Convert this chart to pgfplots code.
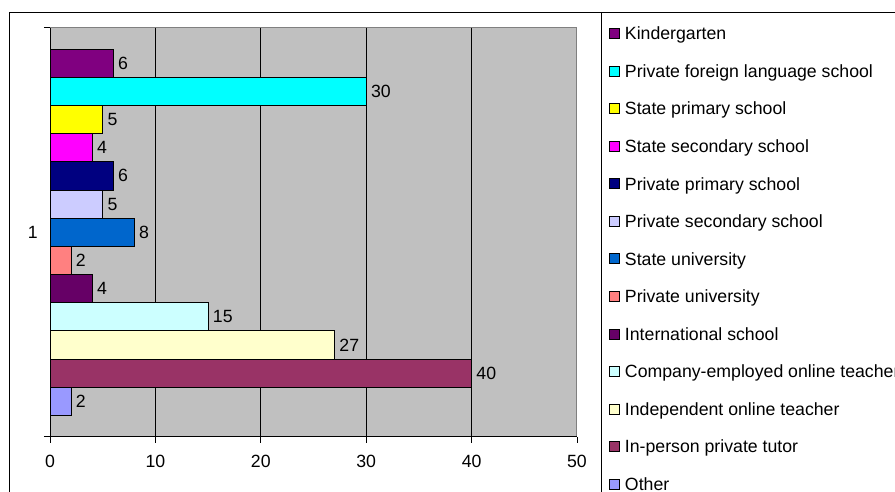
\documentclass[border=0pt]{standalone}
\usepackage{fontspec}
\setmainfont{Liberation Sans}
\usepackage{pgfplots}
\pgfplotsset{compat=1.18}
\definecolor{plotgray}{HTML}{C0C0C0}
\definecolor{bordergray}{HTML}{808080}
\definecolor{cA}{HTML}{800080}
\definecolor{cB}{HTML}{00FFFF}
\definecolor{cC}{HTML}{FFFF00}
\definecolor{cD}{HTML}{FF00FF}
\definecolor{cE}{HTML}{000080}
\definecolor{cF}{HTML}{CCCCFF}
\definecolor{cG}{HTML}{0066CC}
\definecolor{cH}{HTML}{FF8080}
\definecolor{cI}{HTML}{660066}
\definecolor{cJ}{HTML}{CCFFFF}
\definecolor{cK}{HTML}{FFFFCC}
\definecolor{cL}{HTML}{993366}
\definecolor{cM}{HTML}{9999FF}
\newcommand{\fs}{\fontsize{17.7pt}{21pt}\selectfont}
\begin{document}
\begin{tikzpicture}
\useasboundingbox (0,0) rectangle (895pt,492pt);
\clip (0,0) rectangle (895pt,492pt);
\draw[black, line width=1pt] (9.3pt,-10pt) rectangle (910pt,479.3pt);
\draw[black, line width=1pt] (601pt,-10pt) -- (601pt,479.3pt);
\begin{axis}[
  at={(50pt,55.3pt)}, anchor=south west,
  scale only axis, width=527pt, height=409pt,
  xbar, bar width=1, bar shift=0pt,
  xmin=0, xmax=50, ymin=-0.26, ymax=14.26, y dir=reverse,
  axis background/.style={fill=plotgray, draw=bordergray, line width=1pt},
  axis x line*=bottom, axis y line*=left,
  axis line style={black, line width=1pt},
  tick align=outside, major tick length=6pt,
  tick style={black, line width=0.8pt},
  xtick={0,10,20,30,40,50},
  ytick={-0.26,14.26}, yticklabels={,},
  extra y ticks={7}, extra y tick labels={1},
  extra y tick style={major tick length=0pt},
  extra x ticks={10,20,30,40}, extra x tick labels={},
  extra x tick style={grid=major},
  major grid style={black, line width=0.8pt},
  /pgf/number format/assume math mode=true,
  xticklabel style={font=\fs, inner sep=0pt, yshift=-12.5pt},
  yticklabel style={font=\fs, inner sep=0pt, xshift=-12pt},
  nodes near coords,
  nodes near coords style={font=\fs, inner sep=0pt, anchor=west, xshift=4.5pt, text=black},
  every axis plot/.append style={draw=black, line width=0.8pt, bar shift=0pt},
  legend cell align=left,
  legend image code/.code={\draw[#1, line width=0.8pt] (0pt,-5pt) rectangle (10pt,5pt);},
  legend style={at={(axis description cs:1.0607,1.0100)}, anchor=north west,
    draw=none, fill=none, inner sep=0pt, font=\fs,
    nodes={inner sep=0pt, text height=16pt, text depth=3.4pt},
    row sep=18.16pt, column sep=5pt},
]
\addplot[fill=cA] coordinates {(6,1)};
\addplot[fill=cB] coordinates {(30,2)};
\addplot[fill=cC] coordinates {(5,3)};
\addplot[fill=cD] coordinates {(4,4)};
\addplot[fill=cE] coordinates {(6,5)};
\addplot[fill=cF] coordinates {(5,6)};
\addplot[fill=cG] coordinates {(8,7)};
\addplot[fill=cH] coordinates {(2,8)};
\addplot[fill=cI] coordinates {(4,9)};
\addplot[fill=cJ] coordinates {(15,10)};
\addplot[fill=cK] coordinates {(27,11)};
\addplot[fill=cL] coordinates {(40,12)};
\addplot[fill=cM] coordinates {(2,13)};
\legend{Kindergarten,Private foreign language school,State primary school,State secondary school,Private primary school,Private secondary school,State university,Private university,International school,Company-employed online teacher,Independent online teacher,In-person private tutor,Other}
\end{axis}
\end{tikzpicture}
\end{document}
